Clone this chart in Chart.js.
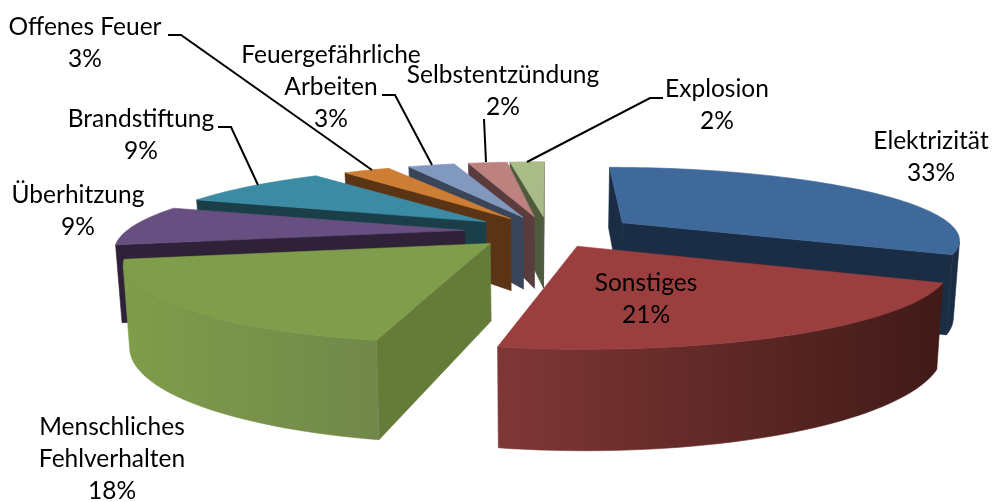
<!DOCTYPE html>
<html><head><meta charset="utf-8">
<style>html,body{margin:0;padding:0;background:#fff}canvas{display:block}</style>
<script src="https://cdn.jsdelivr.net/npm/chart.js@4"></script>
</head><body><canvas id="c" width="992" height="502"></canvas>
<script>
const categories=['Elektrizität','Sonstiges','Menschliches Fehlverhalten','Überhitzung','Brandstiftung','Offenes Feuer','Feuergefährliche Arbeiten','Selbstentzündung','Explosion'];
const values=[33,21,18,9,9,3,3,2,2];
const explode=[58,46,50,55,53,50,50,50,50];
const viewScale=[0.97,1,0.99,0.98,1,1,1,1,1];
const viewStart=[0,-4,-2,-0.5,-1.5,-1,0,0,0];
const viewEnd=[-3,-3.5,-0.5,-2,-2.5,-2,-1,1,0];
const topColors=['#40699b','#9b3f3e','#7f9d4a','#684f82','#3c8ba4','#cd7e34','#8199bf','#bd8180','#a9bb87'];
const wallColors=['#1a2d44','#6a2c2a','#657c39','#2e2138','#1a3f49','#5b3416','#3a4559','#5a3c3c','#4e5b3c'];
const outerLeft=['#1a2d44','#7f3736','#7f9d4a','#2e2138','#1a3f49','#5b3416','#3a4559','#5a3c3c','#4e5b3c'];
const outerRight=['#1a2d44','#401a17','#71884a','#2e2138','#1a3f49','#5b3416','#3a4559','#5a3c3c','#4e5b3c'];
const labelLines=[['Elektrizität','33%'],['Sonstiges','21%'],['Menschliches','Fehlverhalten','18%'],['Überhitzung','9%'],['Brandstiftung','9%'],['Offenes Feuer','3%'],['Feuergefährliche','Arbeiten','3%'],['Selbstentzündung','2%'],['Explosion','2%']];
const labelAt=[[931,141],[646,283],[112,427],[78,195],[141,119],[85,27],[331,55],[503,75],[717,89]];
const leaders=[null,null,null,null,[[218,127],[231,127],[258,185]],[[168,35],[181,35],[372,170]],[[382,95],[395,95],[432,165]],[[484,119],[484,119],[486,162]],[[663,98],[650,98],[527,162]]];
const P={cx:548,cy:232,rx:346,a:73,b:0.22,d:75,refR:226};
function proj(u,v,low){const s=1/(1-P.b*v);let x=P.cx+P.rx*u*s;const y=P.cy+P.a*v*s+(low?P.d*s:0);if(low)x=P.cx+(x-P.cx)*0.985;return [x,y];}
function area(pts){let a=0;for(let i=0;i<pts.length;i++){const p=pts[i],q=pts[(i+1)%pts.length];a+=p[0]*q[1]-q[0]*p[1];}return a/2;}
function poly(ctx,pts,fill){ctx.beginPath();pts.forEach((p,i)=>i?ctx.lineTo(p[0],p[1]):ctx.moveTo(p[0],p[1]));ctx.closePath();ctx.fillStyle=fill;ctx.fill();ctx.strokeStyle=fill;ctx.lineWidth=0.6;ctx.stroke();}
const pie3d={id:'pie3d',
 beforeDatasetDraw(chart){
  const ctx=chart.ctx,arcs=chart.getDatasetMeta(0).data,rad=Math.PI/180;
  const order=arcs.map((a,i)=>i).sort((i,j)=>{const m=k=>(arcs[k].startAngle+arcs[k].endAngle)/2;return Math.sin(m(i))-Math.sin(m(j));});
  order.forEach(i=>{
   const a=arcs[i],mid=(a.startAngle+a.endAngle)/2,e=a.options.offset/P.refR,f=viewScale[i];
   const ou=e*Math.cos(mid),ov=e*Math.sin(mid);
   const t0=a.startAngle+viewStart[i]*rad,t1=a.endAngle+viewEnd[i]*rad;
   const n=Math.max(4,Math.ceil((t1-t0)/0.03));
   const rim=[];for(let k=0;k<=n;k++){const t=t0+(t1-t0)*k/n;rim.push([ou+f*Math.cos(t),ov+f*Math.sin(t)]);}
   const top=rim.map(p=>proj(p[0],p[1],false)),low=rim.map(p=>proj(p[0],p[1],true));
   const ap=proj(ou,ov,false),apl=proj(ou,ov,true);
   const xs=top.map(p=>p[0]);
   const g=ctx.createLinearGradient(Math.min(...xs),0,Math.max(...xs),0);g.addColorStop(0,outerLeft[i]);g.addColorStop(1,outerRight[i]);
   const topPoly=[ap,...top];const sign=Math.sign(area(topPoly));
   [[ap,apl,low[0],top[0]],[top[n],low[n],apl,ap]].forEach(w=>{if(Math.sign(area(w))===sign)poly(ctx,w,wallColors[i]);});
   let first=-1,last=-1;
   for(let k=0;k<n;k++){const q=[top[k],low[k],low[k+1],top[k+1]];if(Math.sign(area(q))===sign){if(first<0)first=k;last=k;}}
   if(first>=0)poly(ctx,[...top.slice(first,last+2),...low.slice(first,last+2).reverse()],g);
   poly(ctx,topPoly,topColors[i]);
  });
  ctx.save();ctx.strokeStyle='#000';ctx.lineWidth=2;
  leaders.forEach(l=>{if(!l)return;ctx.beginPath();l.forEach((p,k)=>k?ctx.lineTo(p[0],p[1]):ctx.moveTo(p[0],p[1]));ctx.stroke();});
  ctx.fillStyle='#000';ctx.font='24.5px Lato';ctx.textAlign='center';ctx.textBaseline='middle';
  labelLines.forEach((ls,i)=>ls.forEach((t,k)=>ctx.fillText(t,labelAt[i][0],labelAt[i][1]+k*32)));
  ctx.restore();
  return false;
 }};
new Chart(document.getElementById('c'),{type:'pie',
 data:{labels:categories,datasets:[{data:values,backgroundColor:topColors,offset:explode,borderWidth:0}]},
 options:{responsive:false,animation:false,events:[],rotation:0,plugins:{legend:{display:false},tooltip:{enabled:false}}},
 plugins:[pie3d]});
</script></body></html>
